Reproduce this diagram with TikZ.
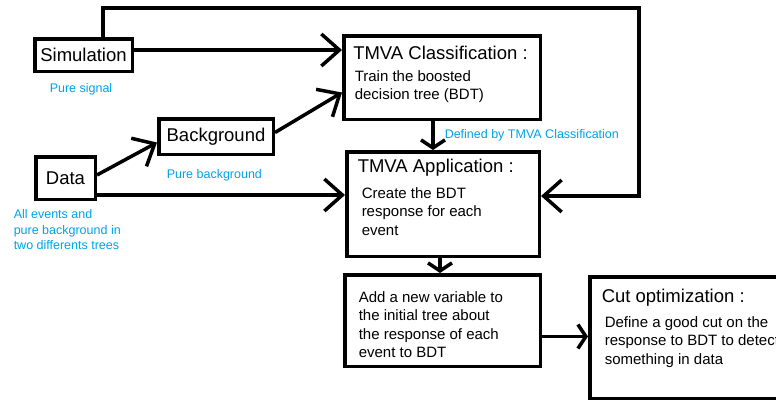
\documentclass[tikz,border=0pt]{standalone}
\usepackage{fontspec}
\setmainfont{Liberation Sans}
\usetikzlibrary{arrows.meta,calc,positioning}
\definecolor{paintblue}{RGB}{0,162,232}

\begin{document}
\begin{tikzpicture}[x=1pt,y=-1pt,line width=3.5pt,line join=miter,
    box/.style={draw,inner sep=0pt,anchor=north west,font=\fontsize{18.5}{22}\selectfont},
    ttl/.style={inner sep=0pt,anchor=north west,font=\fontsize{18.5}{22}\selectfont},
    txt/.style={inner sep=0pt,anchor=north west,align=left,font=\fontsize{15}{18.2}\selectfont},
    note/.style={inner sep=0pt,anchor=north west,align=left,text=paintblue,font=\fontsize{12.5}{15.2}\selectfont},
    arr/.style={-{Straight Barb[length=18pt,width=32pt]}},
    arrs/.style={-{Straight Barb[length=8pt,width=24pt]}}]
    \useasboundingbox (0,0) rectangle (776,402);
    % boxes
    \node[box,minimum width=97.5pt,minimum height=32.5pt] (sim) at (33,37) {Simulation};
    \node[box,minimum width=114.5pt,minimum height=35.5pt] (bkg) at (157,117) {Background};
    \node[box,minimum width=59.5pt,minimum height=42.5pt] (data) at (34,155) {Data};
    \node[box,minimum width=196.5pt,minimum height=83.5pt] (cls) at (342,34) {};
    \node[box,minimum width=192.5pt,minimum height=104.5pt] (app) at (345,150) {};
    \node[box,minimum width=195.5pt,minimum height=91.5pt] (add) at (343,273) {};
    \node[box,minimum width=210pt,minimum height=121.5pt] (cut) at (588,275) {};
    % texts in the boxes
    \node[ttl] (clst) at ([shift={(9.5,10)}]cls.north west) {TMVA Classification :};
    \node[txt] (clsb) at ([shift={(11,35)}]cls.north west) {Train the boosted\\decision tree (BDT)};
    \node[ttl] (appt) at ([shift={(11,7)}]app.north west) {TMVA Application :};
    \node[txt] (appb) at ([shift={(15,36)}]app.north west) {Create the BDT\\response for each\\event};
    \node[txt] (addb) at ([shift={(14,17)}]add.north west) {Add a new variable to\\the initial tree about\\the response of each\\event to BDT};
    \node[ttl] (cutt) at ([shift={(12,12)}]cut.north west) {Cut optimization :};
    \node[txt] (cutb) at ([shift={(15,40)}]cut.north west) {Define a good cut on the\\response to BDT to detect\\something in data};
    % blue notes
    \node[note] (simn) at ([shift={(15,9)}]sim.south west) {Pure signal};
    \node[note] (bkgn) at ([shift={(8,12)}]bkg.south west) {Pure background};
    \node[note] (datan) at ([shift={(-22,7)}]data.south west) {All events and\\pure background in\\two differents trees};
    \node[note] (clsn) at ([shift={(1,7)}]cls.south) {Defined by TMVA Classification};
    % arrows
    \draw[arr] ([yshift=5pt]sim.east) -- ([yshift=5pt]sim.east -| cls.west);
    \draw[arr] ([yshift=4pt]bkg.east) -- ([yshift=-15pt]cls.west);
    \draw[arr] ([yshift=3pt]data.east) -- ([yshift=-6pt]bkg.west);
    \draw[arr] ([yshift=-17pt]data.east) -- ([yshift=-17pt]data.east -| app.west);
    \draw[arrs] ([xshift=-9pt]cls.south) -- ([xshift=-9pt]cls.south |- app.north);
    \draw[arrs] ([xshift=-3pt]app.south) -- ([xshift=-3pt]app.south |- add.north);
    \draw[arrs] ([yshift=-16pt]add.east) -- ([yshift=-16pt]add.east -| cut.west);
    \coordinate (loop) at (639,8);
    \draw[arr] ([xshift=19.5pt]sim.north) |- (loop) |- ([yshift=8pt]app.east);
\end{tikzpicture}
\end{document}
